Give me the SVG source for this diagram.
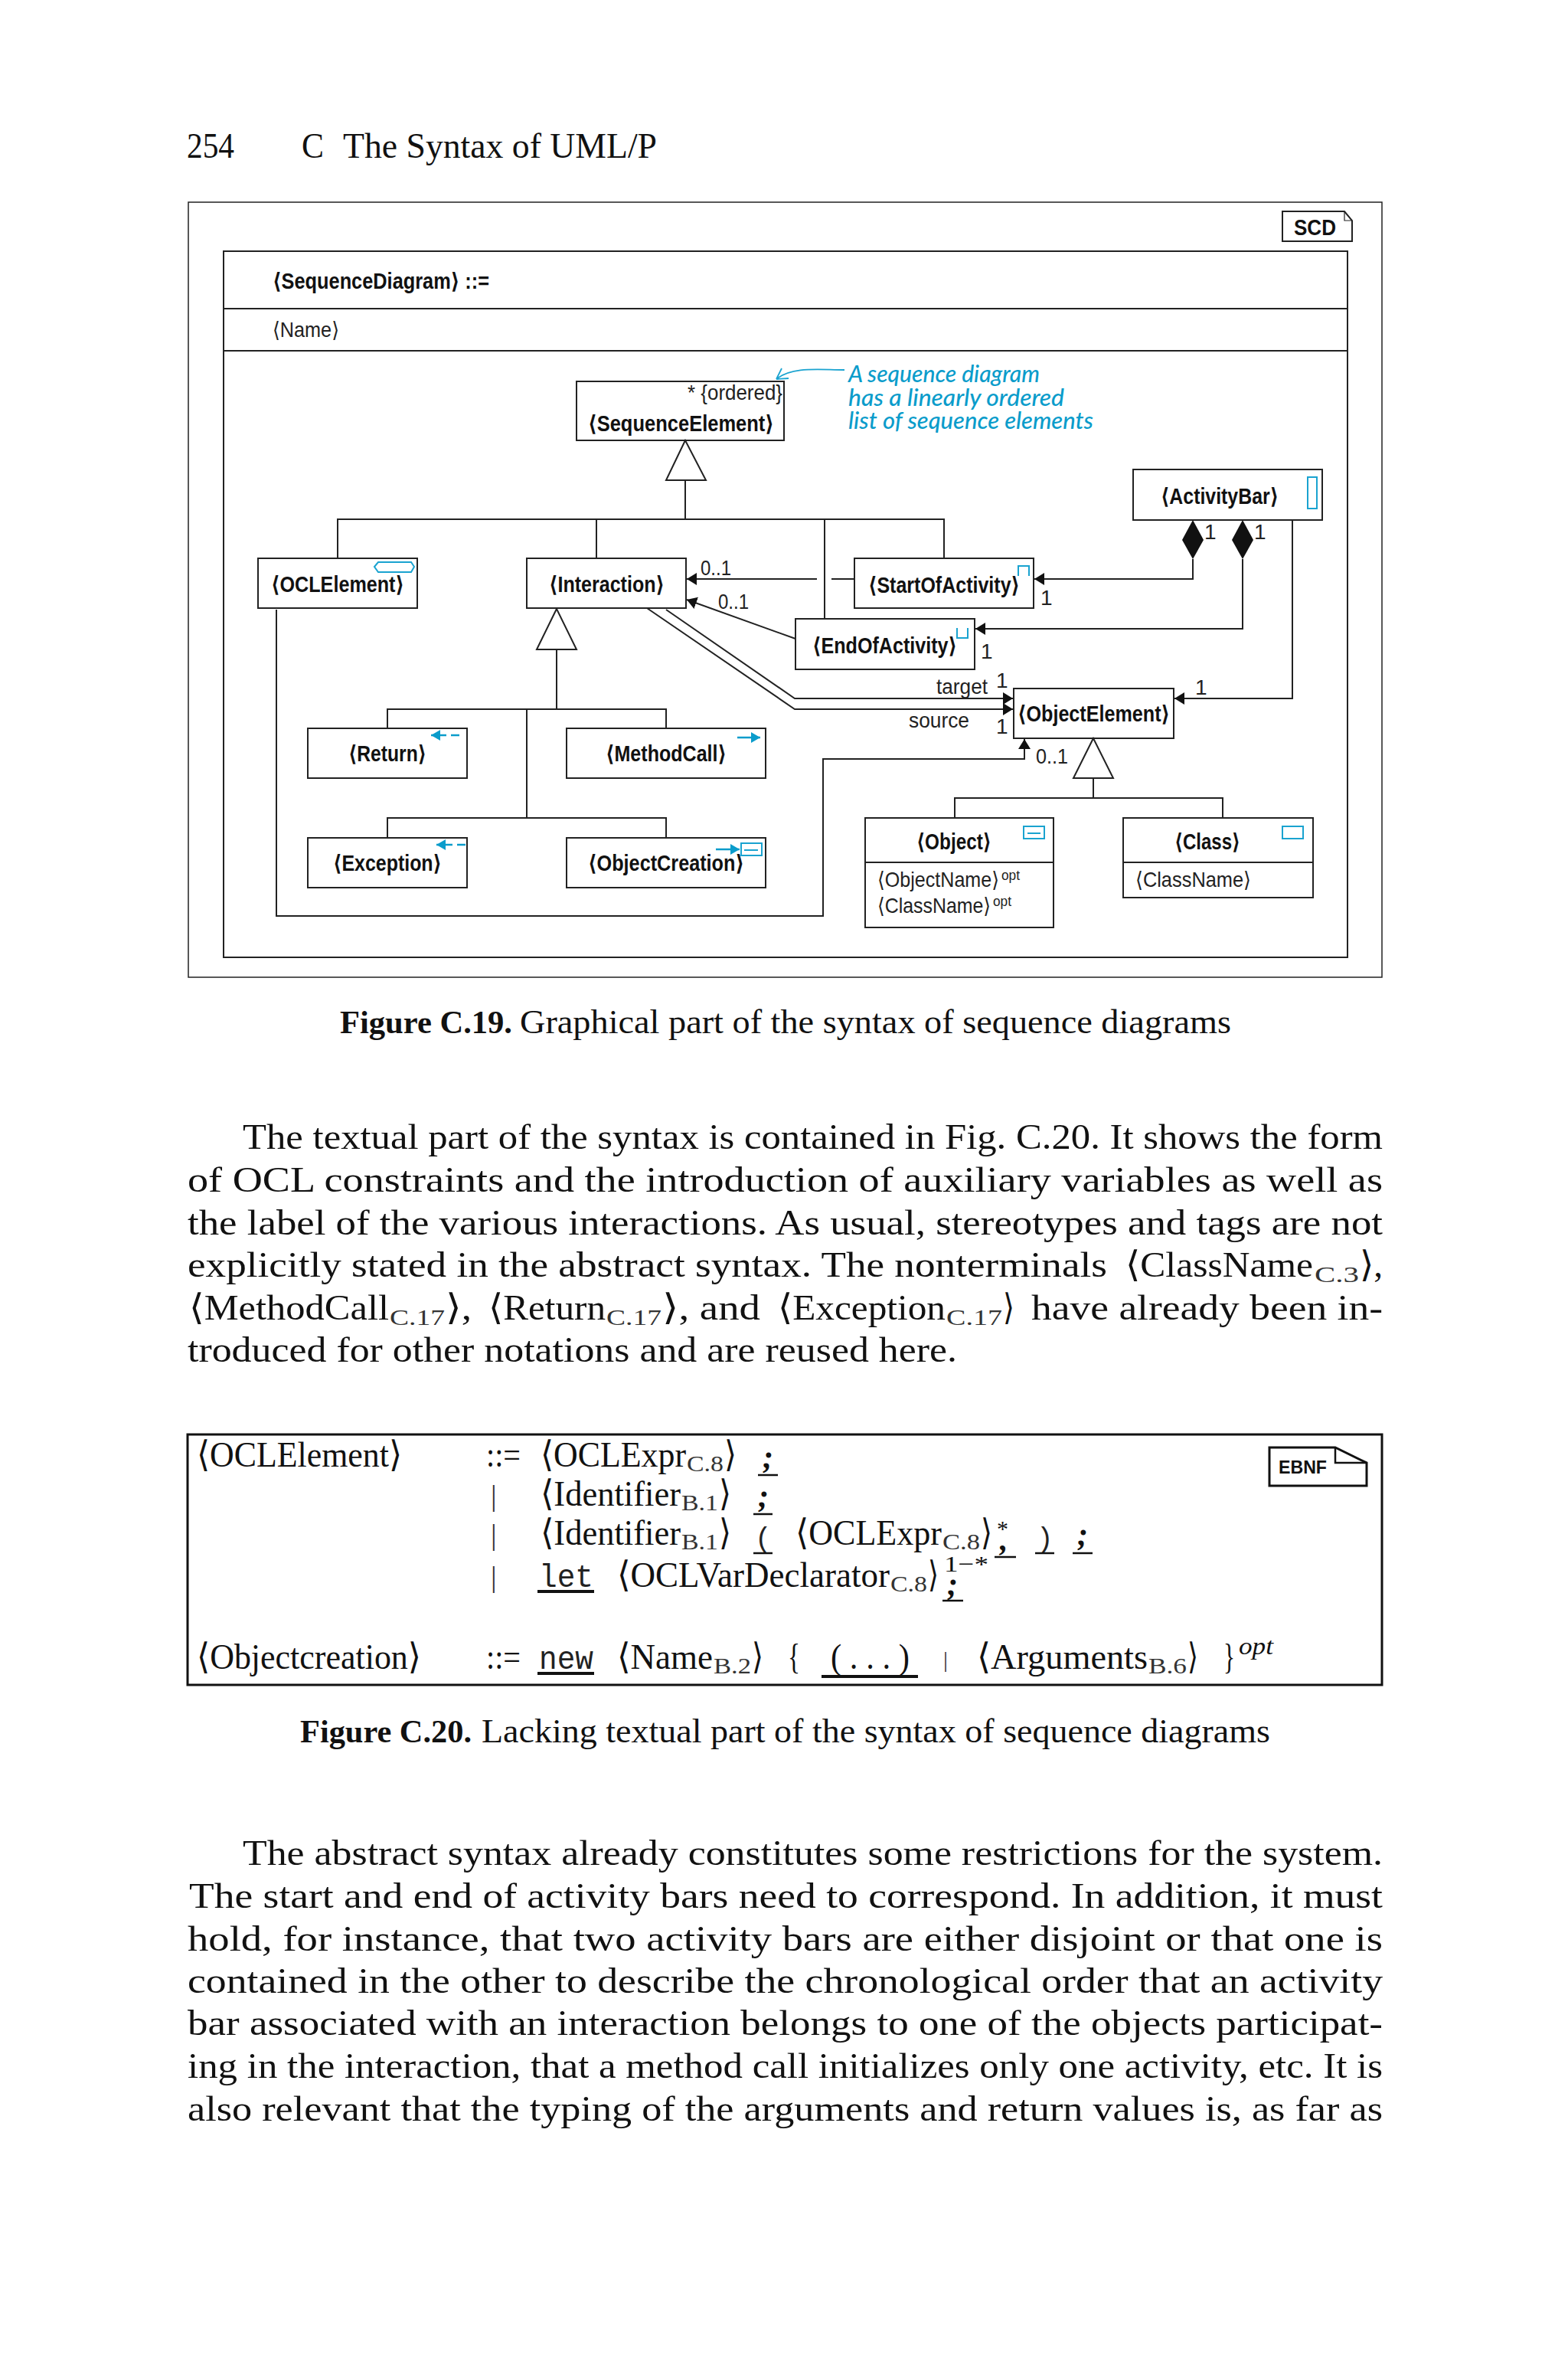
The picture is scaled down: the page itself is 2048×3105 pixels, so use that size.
<svg xmlns="http://www.w3.org/2000/svg" width="2048" height="3105" viewBox="0 0 2048 3105">
<style>
text{white-space:pre}
.b{font-family:"Liberation Serif","DejaVu Serif",serif;font-size:47px;fill:#111}
.bb{font-family:"Liberation Serif","DejaVu Serif",serif;font-size:43px;font-weight:bold;fill:#111}
.c{font-family:"Liberation Serif","DejaVu Serif",serif;font-size:44px;fill:#111}
.s{font-family:"Liberation Serif","DejaVu Serif",serif;font-size:30px;fill:#333}
.st{font-family:"Liberation Serif","DejaVu Serif",serif;font-size:30px;fill:#111}
.i{font-family:"Liberation Serif","DejaVu Serif",serif;font-size:32px;font-style:italic;fill:#111}
.m{font-family:"Liberation Mono","DejaVu Sans Mono",monospace;font-size:42px;fill:#222}
.mp{font-family:"Liberation Mono","DejaVu Sans Mono",monospace;font-size:36px;fill:#222}
.k{font-family:"Liberation Serif","DejaVu Serif",serif;font-size:42px;font-weight:bold;font-style:italic;fill:#111}
.n{font-family:"Liberation Sans","DejaVu Sans",sans-serif;font-size:29px;font-weight:bold;fill:#111}
.r{font-family:"Liberation Sans","DejaVu Sans",sans-serif;font-size:28px;fill:#222}
.o{font-family:"Liberation Sans","DejaVu Sans",sans-serif;font-size:18px;fill:#222}
.e{font-family:"Liberation Sans","DejaVu Sans",sans-serif;font-size:24px;font-weight:bold;fill:#111}
.t{font-family:"Lato","Open Sans",sans-serif;font-size:30px;font-style:italic;font-weight:500;fill:#0a9ccb}
.box{fill:none;stroke:#222;stroke-width:2}
.line{fill:none;stroke:#222;stroke-width:2}
.tri{fill:#fff;stroke:#222;stroke-width:2}
.ic{fill:none;stroke:#1aa3d0;stroke-width:2}
.ia{fill:none;stroke:#0a9ccb;stroke-width:2.5}
.ul{stroke:#111;stroke-width:2.5}
.ult{stroke:#111;stroke-width:4}
</style>
<defs>
<marker id="a" markerUnits="userSpaceOnUse" markerWidth="14" markerHeight="18" refX="13" refY="8" orient="auto"><path d="M0 0L13 8L0 16Z" fill="#111"/></marker>
<marker id="ba" markerUnits="userSpaceOnUse" markerWidth="14" markerHeight="14" refX="0" refY="7" orient="auto"><path d="M0 7L12 0V14Z" fill="#0a9ccb"/></marker>
<marker id="bf" markerUnits="userSpaceOnUse" markerWidth="14" markerHeight="14" refX="12" refY="7" orient="auto"><path d="M0 0L12 7L0 14Z" fill="#0a9ccb"/></marker>
</defs>
<rect width="2048" height="3105" fill="#fff"/>
<g id="page-header">
<text class="b" x="244" y="206" textLength="62" lengthAdjust="spacingAndGlyphs">254</text>
<text class="b" x="394" y="206" textLength="29" lengthAdjust="spacingAndGlyphs">C</text>
<text class="b" x="448" y="206" textLength="410" lengthAdjust="spacingAndGlyphs">The Syntax of UML/P</text>
</g>
<g id="figure-frame">
<rect class="box" x="246" y="264" width="1559" height="1012" style="stroke-width:1.5"/>
<rect class="box" x="292" y="328" width="1468" height="922"/>
<line class="line" x1="292" y1="403" x2="1760" y2="403"/>
<line class="line" x1="292" y1="458" x2="1760" y2="458"/>
<text class="n" x="356" y="377" textLength="283" lengthAdjust="spacingAndGlyphs">⟨SequenceDiagram⟩ ::=</text>
<text class="r" x="356" y="440" textLength="87" lengthAdjust="spacingAndGlyphs">⟨Name⟩</text>
</g>
<g id="scd-tag">
<path class="box" d="M1675 276H1756L1766 288V315H1675Z"/>
<path class="line" d="M1756 276V288H1766" style="stroke-width:1.2"/>
<text class="n" x="1690" y="307" textLength="55" lengthAdjust="spacingAndGlyphs">SCD</text>
</g>
<g id="connectors">
<path class="line" d="M895 627V678M441 729V678H1233V729M779 678V729M1077 678V808"/>
<path class="line" d="M727 848V926M506 951V926H870V951M688 926V1068M506 1094V1068H870V1094"/>
<path class="line" d="M1428 1016V1042M1247 1068V1042H1597V1068"/>
<polygon class="tri" points="895,575 870,627 922,627"/>
<polygon class="tri" points="727,795 701,848 753,848"/>
<polygon class="tri" points="1428,964 1402,1016 1454,1016"/>
<path class="line" d="M1116 756H1086"/>
<path class="line" d="M1067 756H897" marker-end="url(#a)"/>
<path class="line" d="M1039 834L897 783" marker-end="url(#a)"/>
<path class="line" d="M1558 730V756H1351" marker-end="url(#a)"/>
<path class="line" d="M1623 730V821H1274" marker-end="url(#a)"/>
<path class="line" d="M1688 679V912H1534" marker-end="url(#a)"/>
<path class="line" d="M870 796L1038 912H1323" marker-end="url(#a)"/>
<path class="line" d="M845 794L1038 926H1323" marker-end="url(#a)"/>
<path class="line" d="M361 796V1196H1075V991H1338V965" marker-end="url(#a)"/>
<polygon points="1558,679 1572,705 1558,730 1544,705" fill="#111"/>
<polygon points="1623,679 1637,705 1623,730 1609,705" fill="#111"/>
<path d="M1103 483C1070 483 1035 478 1014 495M1014 495L1030 494M1014 495L1021 481" fill="none" stroke="#1aa3d0" stroke-width="1.8"/>
</g>
<g id="SequenceElement">
<rect class="box" x="753" y="498" width="271" height="77"/>
<text class="r" x="898" y="522" textLength="124" lengthAdjust="spacingAndGlyphs">* {ordered}</text>
<text class="n" x="768" y="563" textLength="243" lengthAdjust="spacingAndGlyphs">⟨SequenceElement⟩</text>
</g>
<g id="OCLElement">
<rect class="box" x="337" y="729" width="208" height="65"/>
<path class="ic" d="M489 740L494 734H537L541 740L537 747H494Z"/>
<text class="n" x="354" y="773" textLength="174" lengthAdjust="spacingAndGlyphs">⟨OCLElement⟩</text>
</g>
<g id="Interaction">
<rect class="box" x="688" y="729" width="208" height="65"/>
<text class="n" x="717" y="773" textLength="151" lengthAdjust="spacingAndGlyphs">⟨Interaction⟩</text>
</g>
<g id="StartOfActivity">
<rect class="box" x="1116" y="729" width="234" height="65"/>
<path class="ic" d="M1330 752V739H1344V752"/>
<text class="n" x="1134" y="774" textLength="198" lengthAdjust="spacingAndGlyphs">⟨StartOfActivity⟩</text>
</g>
<g id="EndOfActivity">
<rect class="box" x="1039" y="808" width="234" height="66"/>
<path class="ic" d="M1250 820V833H1264V820"/>
<text class="n" x="1061" y="853" textLength="189" lengthAdjust="spacingAndGlyphs">⟨EndOfActivity⟩</text>
</g>
<g id="ActivityBar">
<rect class="box" x="1480" y="613" width="247" height="66"/>
<rect class="ic" x="1708" y="623" width="12" height="41"/>
<text class="n" x="1516" y="658" textLength="154" lengthAdjust="spacingAndGlyphs">⟨ActivityBar⟩</text>
</g>
<g id="ObjectElement">
<rect class="box" x="1324" y="899" width="209" height="65"/>
<text class="n" x="1329" y="942" textLength="199" lengthAdjust="spacingAndGlyphs">⟨ObjectElement⟩</text>
</g>
<g id="Return">
<rect class="box" x="402" y="951" width="208" height="65"/>
<path class="ia" d="M563 960H583" marker-start="url(#ba)"/>
<path class="ia" d="M589 960H600"/>
<text class="n" x="455" y="994" textLength="102" lengthAdjust="spacingAndGlyphs">⟨Return⟩</text>
</g>
<g id="MethodCall">
<rect class="box" x="740" y="951" width="260" height="65"/>
<path class="ia" d="M963 963H993" marker-end="url(#bf)"/>
<text class="n" x="791" y="994" textLength="158" lengthAdjust="spacingAndGlyphs">⟨MethodCall⟩</text>
</g>
<g id="Exception">
<rect class="box" x="402" y="1094" width="208" height="65"/>
<path class="ia" d="M570 1103H591" marker-start="url(#ba)"/>
<path class="ia" d="M597 1103H608"/>
<text class="n" x="435" y="1137" textLength="142" lengthAdjust="spacingAndGlyphs">⟨Exception⟩</text>
</g>
<g id="ObjectCreation">
<rect class="box" x="740" y="1094" width="260" height="65"/>
<path class="ia" d="M935 1109H966" marker-end="url(#bf)"/>
<rect class="ic" x="968" y="1101" width="27" height="16"/>
<path class="ic" d="M972 1110H990"/>
<text class="n" x="768" y="1137" textLength="204" lengthAdjust="spacingAndGlyphs">⟨ObjectCreation⟩</text>
</g>
<g id="Object">
<rect class="box" x="1130" y="1068" width="246" height="143"/>
<line class="line" x1="1130" y1="1126" x2="1376" y2="1126"/>
<rect class="ic" x="1337" y="1079" width="27" height="16"/>
<path class="ic" d="M1342 1088H1359"/>
<text class="n" x="1197" y="1109" textLength="98" lengthAdjust="spacingAndGlyphs">⟨Object⟩</text>
<text class="r" x="1146" y="1158" textLength="159" lengthAdjust="spacingAndGlyphs">⟨ObjectName⟩</text>
<text class="o" x="1308" y="1149" textLength="24" lengthAdjust="spacingAndGlyphs">opt</text>
<text class="r" x="1146" y="1192" textLength="148" lengthAdjust="spacingAndGlyphs">⟨ClassName⟩</text>
<text class="o" x="1297" y="1183" textLength="24" lengthAdjust="spacingAndGlyphs">opt</text>
</g>
<g id="Class">
<rect class="box" x="1467" y="1068" width="248" height="104"/>
<line class="line" x1="1467" y1="1126" x2="1715" y2="1126"/>
<rect class="ic" x="1675" y="1079" width="27" height="16"/>
<text class="n" x="1534" y="1109" textLength="86" lengthAdjust="spacingAndGlyphs">⟨Class⟩</text>
<text class="r" x="1483" y="1158" textLength="151" lengthAdjust="spacingAndGlyphs">⟨ClassName⟩</text>
</g>
<g id="connector-labels">
<text class="r" x="915" y="751" textLength="40" lengthAdjust="spacingAndGlyphs">0..1</text>
<text class="r" x="938" y="795" textLength="40" lengthAdjust="spacingAndGlyphs">0..1</text>
<text class="r" x="1359" y="790">1</text>
<text class="r" x="1281" y="860">1</text>
<text class="r" x="1573" y="704">1</text>
<text class="r" x="1638" y="704">1</text>
<text class="r" x="1223" y="906" textLength="67" lengthAdjust="spacingAndGlyphs">target</text>
<text class="r" x="1301" y="898">1</text>
<text class="r" x="1561" y="907">1</text>
<text class="r" x="1187" y="950" textLength="79" lengthAdjust="spacingAndGlyphs">source</text>
<text class="r" x="1301" y="958">1</text>
<text class="r" x="1353" y="997" textLength="42" lengthAdjust="spacingAndGlyphs">0..1</text>
</g>
<g id="note">
<text class="t" x="1108" y="499" textLength="250" lengthAdjust="spacingAndGlyphs">A sequence diagram</text>
<text class="t" x="1108" y="530" textLength="282" lengthAdjust="spacingAndGlyphs">has a linearly ordered</text>
<text class="t" x="1108" y="560" textLength="320" lengthAdjust="spacingAndGlyphs">list of sequence elements</text>
</g>
<g id="caption-c19">
<text class="bb" x="444" y="1349" textLength="225" lengthAdjust="spacingAndGlyphs">Figure C.19.</text>
<text class="c" x="679" y="1349" textLength="929" lengthAdjust="spacingAndGlyphs">Graphical part of the syntax of sequence diagrams</text>
</g>
<g id="paragraph-1">
<text class="b" x="317" y="1500" textLength="1489" lengthAdjust="spacingAndGlyphs">The textual part of the syntax is contained in Fig. C.20. It shows the form</text>
<text class="b" x="245" y="1556" textLength="1561" lengthAdjust="spacingAndGlyphs">of OCL constraints and the introduction of auxiliary variables as well as</text>
<text class="b" x="245" y="1612" textLength="1561" lengthAdjust="spacingAndGlyphs">the label of the various interactions. As usual, stereotypes and tags are not</text>
<text class="b" x="245" y="1667" textLength="1201" lengthAdjust="spacingAndGlyphs">explicitly stated in the abstract syntax. The nonterminals</text>
<text class="b" x="1470" y="1667" textLength="245" lengthAdjust="spacingAndGlyphs">⟨ClassName</text>
<text class="s" x="1717" y="1674" textLength="58" lengthAdjust="spacingAndGlyphs">C.3</text>
<text class="b" x="1776" y="1667" textLength="30" lengthAdjust="spacingAndGlyphs">⟩,</text>
<text class="b" x="247" y="1723" textLength="261" lengthAdjust="spacingAndGlyphs">⟨MethodCall</text>
<text class="s" x="509" y="1730" textLength="72" lengthAdjust="spacingAndGlyphs">C.17</text>
<text class="b" x="582" y="1723" textLength="34" lengthAdjust="spacingAndGlyphs">⟩,</text>
<text class="b" x="638" y="1723" textLength="153" lengthAdjust="spacingAndGlyphs">⟨Return</text>
<text class="s" x="792" y="1730" textLength="72" lengthAdjust="spacingAndGlyphs">C.17</text>
<text class="b" x="865" y="1723" textLength="128" lengthAdjust="spacingAndGlyphs">⟩, and</text>
<text class="b" x="1016" y="1723" textLength="219" lengthAdjust="spacingAndGlyphs">⟨Exception</text>
<text class="s" x="1236" y="1730" textLength="73" lengthAdjust="spacingAndGlyphs">C.17</text>
<text class="b" x="1310" y="1723" textLength="15" lengthAdjust="spacingAndGlyphs">⟩</text>
<text class="b" x="1347" y="1723" textLength="459" lengthAdjust="spacingAndGlyphs">have already been in-</text>
<text class="b" x="245" y="1778" textLength="1005" lengthAdjust="spacingAndGlyphs">troduced for other notations and are reused here.</text>
</g>
<g id="grammar">
<rect x="245" y="1873" width="1560" height="327" fill="none" stroke="#111" stroke-width="3"/>
<path d="M1658 1890H1744L1785 1910V1940H1658Z" fill="none" stroke="#111" stroke-width="3"/>
<path d="M1744 1890V1910H1785" fill="none" stroke="#111" stroke-width="2.5"/>
<text class="e" x="1670" y="1924" textLength="63" lengthAdjust="spacingAndGlyphs">EBNF</text>
<text class="b" x="257" y="1915" textLength="268" lengthAdjust="spacingAndGlyphs">⟨OCLElement⟩</text>
<text class="b" x="635" y="1915" textLength="45" lengthAdjust="spacingAndGlyphs">::=</text>
<text class="b" x="706" y="1915" textLength="190" lengthAdjust="spacingAndGlyphs">⟨OCLExpr</text>
<text class="s" x="897" y="1921" textLength="48" lengthAdjust="spacingAndGlyphs">C.8</text>
<text class="b" x="946" y="1915" textLength="16" lengthAdjust="spacingAndGlyphs">⟩</text>
<text class="k" x="996" y="1916">;</text>
<line class="ul" x1="990" y1="1926" x2="1016" y2="1926"/>
<text class="s" x="641" y="1966" style="font-size:38px">|</text>
<text class="b" x="706" y="1966" textLength="183" lengthAdjust="spacingAndGlyphs">⟨Identifier</text>
<text class="s" x="890" y="1972" textLength="48" lengthAdjust="spacingAndGlyphs">B.1</text>
<text class="b" x="939" y="1966" textLength="16" lengthAdjust="spacingAndGlyphs">⟩</text>
<text class="k" x="990" y="1967">;</text>
<line class="ul" x1="984" y1="1977" x2="1009" y2="1977"/>
<text class="s" x="641" y="2017" style="font-size:38px">|</text>
<text class="b" x="706" y="2017" textLength="183" lengthAdjust="spacingAndGlyphs">⟨Identifier</text>
<text class="s" x="890" y="2023" textLength="48" lengthAdjust="spacingAndGlyphs">B.1</text>
<text class="b" x="939" y="2017" textLength="16" lengthAdjust="spacingAndGlyphs">⟩</text>
<text class="mp" x="986" y="2020">(</text>
<line class="ul" x1="984" y1="2028" x2="1009" y2="2028"/>
<text class="b" x="1039" y="2017" textLength="191" lengthAdjust="spacingAndGlyphs">⟨OCLExpr</text>
<text class="s" x="1231" y="2023" textLength="49" lengthAdjust="spacingAndGlyphs">C.8</text>
<text class="b" x="1281" y="2017" textLength="15" lengthAdjust="spacingAndGlyphs">⟩</text>
<text class="st" x="1302" y="2006">*</text>
<text class="k" x="1306" y="2024">,</text>
<line class="ul" x1="1299" y1="2033" x2="1327" y2="2033"/>
<text class="mp" x="1354" y="2020">)</text>
<line class="ul" x1="1352" y1="2028" x2="1377" y2="2028"/>
<text class="k" x="1407" y="2017">;</text>
<line class="ul" x1="1401" y1="2028" x2="1427" y2="2028"/>
<text class="s" x="641" y="2072" style="font-size:38px">|</text>
<text class="m" x="704" y="2072" textLength="71" lengthAdjust="spacingAndGlyphs">let</text>
<line class="ult" x1="702" y1="2078" x2="776" y2="2078"/>
<text class="b" x="806" y="2072" textLength="356" lengthAdjust="spacingAndGlyphs">⟨OCLVarDeclarator</text>
<text class="s" x="1163" y="2078" textLength="48" lengthAdjust="spacingAndGlyphs">C.8</text>
<text class="b" x="1212" y="2072" textLength="14" lengthAdjust="spacingAndGlyphs">⟩</text>
<text class="s" x="1233" y="2052" style="fill:#111" textLength="58" lengthAdjust="spacingAndGlyphs">1−*</text>
<text class="k" x="1237" y="2082">;</text>
<line class="ul" x1="1231" y1="2090" x2="1258" y2="2090"/>
<text class="b" x="257" y="2179" textLength="293" lengthAdjust="spacingAndGlyphs">⟨Objectcreation⟩</text>
<text class="b" x="635" y="2179" textLength="45" lengthAdjust="spacingAndGlyphs">::=</text>
<text class="m" x="704" y="2179" textLength="71" lengthAdjust="spacingAndGlyphs">new</text>
<line class="ult" x1="702" y1="2185" x2="776" y2="2185"/>
<text class="b" x="806" y="2179" textLength="125" lengthAdjust="spacingAndGlyphs">⟨Name</text>
<text class="s" x="932" y="2185" textLength="49" lengthAdjust="spacingAndGlyphs">B.2</text>
<text class="b" x="982" y="2179" textLength="15" lengthAdjust="spacingAndGlyphs">⟩</text>
<text class="b" x="1029" y="2179" textLength="16" lengthAdjust="spacingAndGlyphs">{</text>
<text class="b" x="1085" y="2179" textLength="103" lengthAdjust="spacingAndGlyphs">( . . . )</text>
<line class="ult" x1="1073" y1="2189" x2="1199" y2="2189"/>
<text class="s" x="1232" y="2177">|</text>
<text class="b" x="1276" y="2179" textLength="223" lengthAdjust="spacingAndGlyphs">⟨Arguments</text>
<text class="s" x="1500" y="2185" textLength="50" lengthAdjust="spacingAndGlyphs">B.6</text>
<text class="b" x="1551" y="2179" textLength="14" lengthAdjust="spacingAndGlyphs">⟩</text>
<text class="b" x="1598" y="2179" textLength="15" lengthAdjust="spacingAndGlyphs">}</text>
<text class="i" x="1618" y="2160" textLength="45" lengthAdjust="spacingAndGlyphs">opt</text>
</g>
<g id="caption-c20">
<text class="bb" x="392" y="2275" textLength="224" lengthAdjust="spacingAndGlyphs">Figure C.20.</text>
<text class="c" x="629" y="2275" textLength="1030" lengthAdjust="spacingAndGlyphs">Lacking textual part of the syntax of sequence diagrams</text>
</g>
<g id="paragraph-2">
<text class="b" x="317" y="2435" textLength="1489" lengthAdjust="spacingAndGlyphs">The abstract syntax already constitutes some restrictions for the system.</text>
<text class="b" x="247" y="2491" textLength="1559" lengthAdjust="spacingAndGlyphs">The start and end of activity bars need to correspond. In addition, it must</text>
<text class="b" x="245" y="2547" textLength="1561" lengthAdjust="spacingAndGlyphs">hold, for instance, that two activity bars are either disjoint or that one is</text>
<text class="b" x="245" y="2602" textLength="1561" lengthAdjust="spacingAndGlyphs">contained in the other to describe the chronological order that an activity</text>
<text class="b" x="245" y="2657" textLength="1561" lengthAdjust="spacingAndGlyphs">bar associated with an interaction belongs to one of the objects participat-</text>
<text class="b" x="245" y="2713" textLength="1561" lengthAdjust="spacingAndGlyphs">ing in the interaction, that a method call initializes only one activity, etc. It is</text>
<text class="b" x="245" y="2769" textLength="1561" lengthAdjust="spacingAndGlyphs">also relevant that the typing of the arguments and return values is, as far as</text>
</g>
</svg>
